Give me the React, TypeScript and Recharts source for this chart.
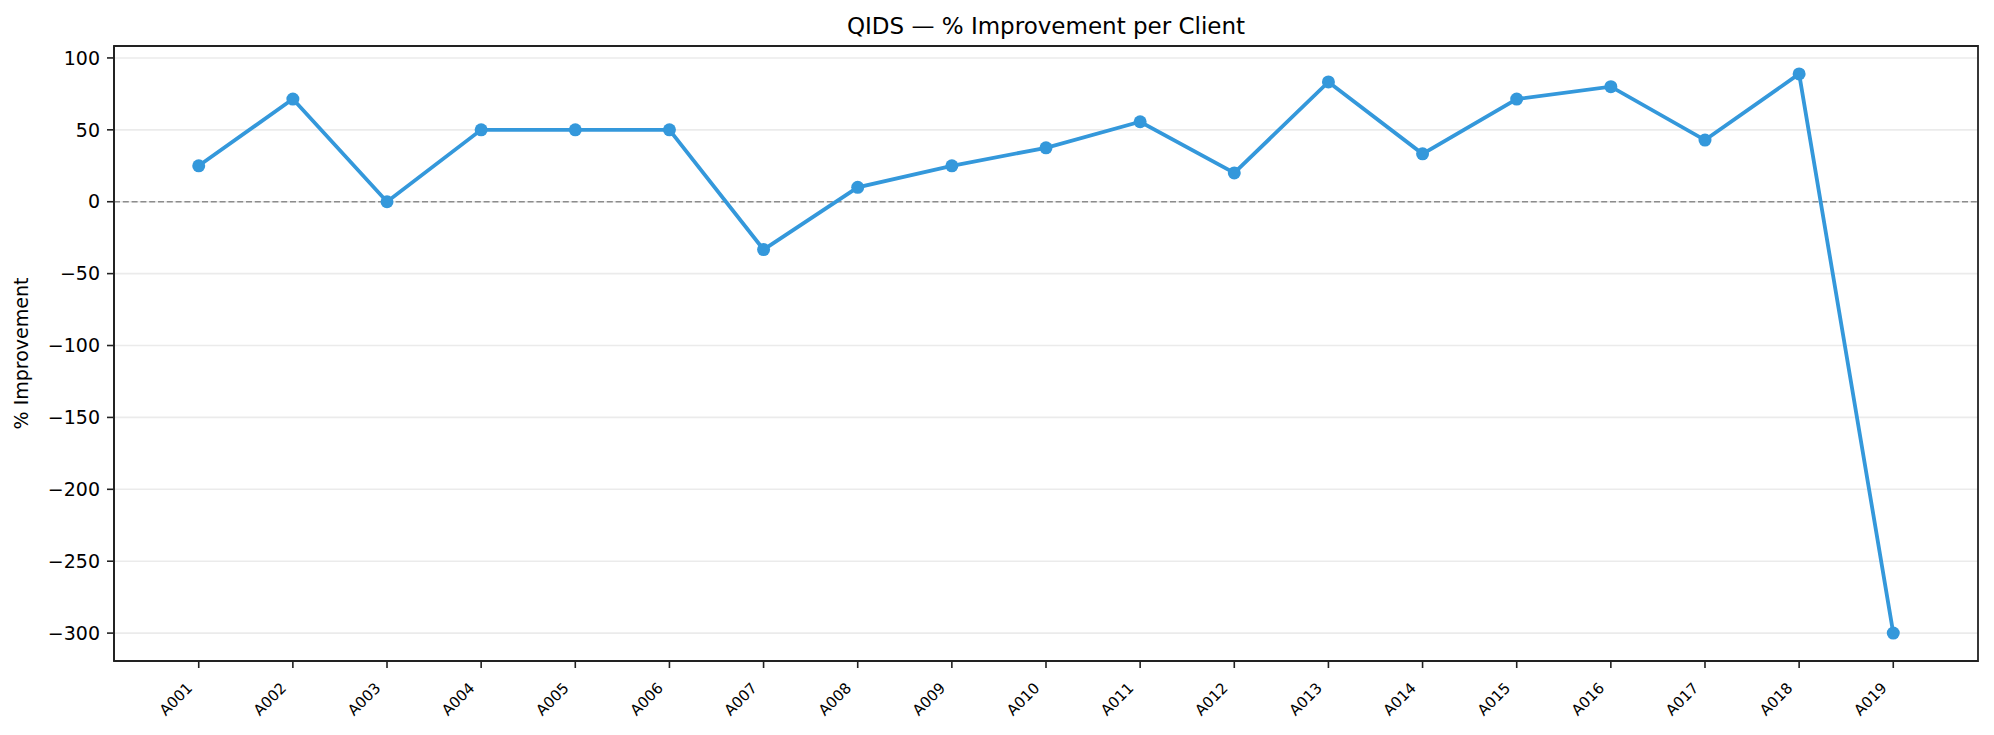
import { LineChart, Line, XAxis, YAxis, CartesianGrid, ReferenceLine, ReferenceArea } from 'recharts';

const clients = [
  'A001', 'A002', 'A003', 'A004', 'A005', 'A006', 'A007', 'A008', 'A009', 'A010',
  'A011', 'A012', 'A013', 'A014', 'A015', 'A016', 'A017', 'A018', 'A019',
];
const improvement = [
  25, 71.4, 0, 50, 50, 50, -33.3, 10, 25, 37.5,
  55.6, 20, 83.3, 33.3, 71.4, 80, 42.9, 88.9, -300,
];
const yTicks = [-300, -250, -200, -150, -100, -50, 0, 50, 100];

const FONT = '"DejaVu Sans", sans-serif';
const LINE_COLOR = '#3498db';
const SPINE = '#222222';
const X_DOMAIN = [-0.9, 18.9];
const Y_DOMAIN = [-319.4, 108.3];

const data = clients.map((client, i) => ({ idx: i, client, value: improvement[i] }));
const xTicks = clients.map((_, i) => i);

const fmtY = (v: number) => (v < 0 ? `\u2212${Math.abs(v)}` : `${v}`);

// rotated label, placed by its centre below the tick
const XTick = ({ x, y, payload }: any) => (
  <text
    transform={`translate(${x - 23},${y + 31}) rotate(-45)`}
    textAnchor="middle"
    dy="0.35em"
    fontSize={15}
    fontFamily={FONT}
    fill="#000"
  >
    {clients[payload.value]}
  </text>
);

const YLabel = ({ viewBox }: any) => {
  const cy = viewBox.y + viewBox.height / 2;
  return (
    <text
      x={28}
      y={cy}
      transform={`rotate(-90, 28, ${cy})`}
      textAnchor="middle"
      fontSize={19}
      fontFamily={FONT}
      fill="#000"
    >
      % Improvement
    </text>
  );
};

const App = () => {
  return (
    <div style={{ position: 'relative', width: 1994, height: 735, fontFamily: FONT, background: '#fff' }}>
      <style>{'body { margin: 0; }'}</style>
      <div
        style={{
          position: 'absolute',
          top: 15,
          left: 0,
          width: 2092,
          textAlign: 'center',
          fontSize: 23,
          lineHeight: 1,
          color: '#000',
        }}
      >
        QIDS — % Improvement per Client
      </div>
      <LineChart width={1994} height={735} data={data} margin={{ top: 46, right: 16, bottom: 14, left: 0 }}>
        <CartesianGrid vertical={false} stroke="#ebebeb" strokeWidth={1.6} />
        <XAxis
          dataKey="idx"
          type="number"
          domain={X_DOMAIN}
          ticks={xTicks}
          interval={0}
          allowDataOverflow
          height={60}
          tick={<XTick />}
          tickSize={7}
          tickMargin={0}
          axisLine={{ stroke: SPINE, strokeWidth: 1.8 }}
          tickLine={{ stroke: SPINE, strokeWidth: 1.6 }}
        />
        <YAxis
          type="number"
          domain={Y_DOMAIN}
          ticks={yTicks}
          allowDataOverflow
          width={114}
          tickFormatter={fmtY}
          tick={{ fontSize: 19, fontFamily: FONT, fill: '#000' }}
          tickSize={7}
          tickMargin={7}
          axisLine={{ stroke: SPINE, strokeWidth: 1.8 }}
          tickLine={{ stroke: SPINE, strokeWidth: 1.6 }}
          label={<YLabel />}
        />
        <ReferenceLine y={0} stroke="#8c8c8c" strokeWidth={1.6} strokeDasharray="6 2.8" />
        <Line
          dataKey="value"
          type="linear"
          stroke={LINE_COLOR}
          strokeWidth={3.8}
          dot={{ r: 6.5, fill: LINE_COLOR, stroke: LINE_COLOR, strokeWidth: 0 }}
          activeDot={false}
          isAnimationActive={false}
        />
        <ReferenceArea
          x1={X_DOMAIN[0]}
          x2={X_DOMAIN[1]}
          y1={Y_DOMAIN[0]}
          y2={Y_DOMAIN[1]}
          fill="none"
          stroke={SPINE}
          strokeWidth={1.8}
          ifOverflow="visible"
        />
      </LineChart>
    </div>
  );
};

export default App;
